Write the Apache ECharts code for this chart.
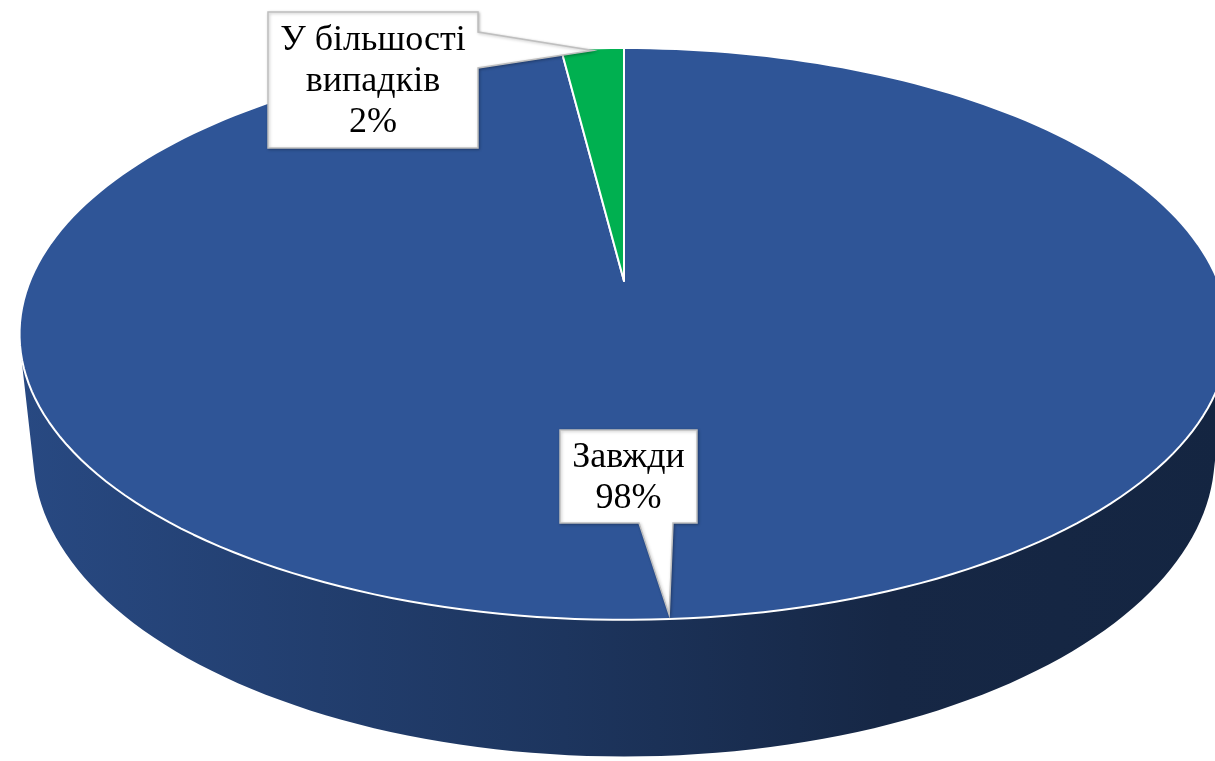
<!DOCTYPE html>
<html>
<head>
<meta charset="utf-8">
<script src="https://cdn.jsdelivr.net/npm/echarts@6.0.0/dist/echarts.min.js"></script>
<style>
  html, body { margin: 0; padding: 0; background: #fff; }
  #chart { width: 1215px; height: 761px; }
</style>
</head>
<body>
<div id="chart"></div>
<script>
// data
const categories = ['Завжди', 'У більшості випадків'];
const values = [98, 2];

// colours
const sliceColors = ['#2F5597', '#00B050'];

// 3d look of the pie (perspective, tilt, thickness)
const CX = 624, CY = 281;
const SCALE = 594;
const TILT = 27.7 * Math.PI / 180;
const DIST = 4.78;
const THICK = 0.232;

// callout boxes: [left, top, width, height], pointer base
const labelBoxes = [
    { box: [560, 430, 137, 93], side: 'bottom', base: [639, 673] },
    { box: [268, 12, 210, 136], side: 'right', base: [32, 68] }
];

const total = values.reduce((a, b) => a + b, 0);
const angles = [];
let acc = 0;
values.forEach(v => {
    const a0 = acc / total * Math.PI * 2;
    acc += v;
    angles.push([a0, acc / total * Math.PI * 2]);
});

function project(theta, r, up) {
    const X = r * Math.sin(theta);
    const Z = -r * Math.cos(theta);
    const depth = Z * Math.cos(TILT) + up * Math.sin(TILT);
    const f = DIST / (DIST - depth);
    return [CX + f * X * SCALE, CY + f * (Z * Math.sin(TILT) - up * Math.cos(TILT)) * SCALE];
}

function arc(a, b, up) {
    const n = Math.max(2, Math.ceil((b - a) / (Math.PI * 2) * 240));
    const pts = [];
    for (let i = 0; i <= n; i++) {
        pts.push(project(a + (b - a) * i / n, 1, up));
    }
    return pts;
}

function shade(hex, k) {
    const c = echarts.color.parse(hex);
    return 'rgb(' + [0, 1, 2].map(i => Math.round(c[i] * k)).join(',') + ')';
}

// wall is visible only where it faces the camera
const K = 1 / (DIST * Math.cos(TILT));
const visA = Math.acos(-K), visB = Math.PI * 2 - Math.acos(-K);

function labelText(i) {
    let name = categories[i];
    const sp = name.lastIndexOf(' ');
    if (name.length > 12 && sp > 0) name = name.slice(0, sp) + '\n' + name.slice(sp + 1);
    return name + '\n' + Math.round(values[i] / total * 100) + '%';
}

function calloutPoints(lb, tip) {
    const [x, y, w, h] = lb.box;
    if (lb.side === 'bottom') {
        return [[x, y], [x + w, y], [x + w, y + h], [lb.base[1], y + h], tip, [lb.base[0], y + h], [x, y + h]];
    }
    return [[x, y], [x + w, y], [x + w, lb.base[0]], tip, [x + w, lb.base[1]], [x + w, y + h], [x, y + h]];
}

function renderItem(params, api) {
    const i = params.dataIndex;
    const [a, b] = angles[i];
    const color = sliceColors[i];
    const children = [];

    const wa = Math.max(a, visA), wb = Math.min(b, visB);
    if (wb > wa) {
        const top = arc(wa, wb, 0);
        const bottom = arc(wa, wb, -THICK).reverse();
        children.push({
            type: 'polygon',
            shape: { points: top.concat(bottom) },
            style: {
                fill: new echarts.graphic.LinearGradient(19, 0, 1230, 0, [
                    { offset: 0, color: shade(color, 0.86) },
                    { offset: 0.45, color: shade(color, 0.62) },
                    { offset: 0.72, color: shade(color, 0.46) },
                    { offset: 1, color: shade(color, 0.43) }
                ], true)
            }
        });
    }

    const face = [project(0, 0, 0)].concat(arc(a, b, 0));
    children.push({
        type: 'polygon',
        shape: { points: face },
        style: { fill: color, stroke: '#ffffff', lineWidth: 2, lineJoin: 'round' }
    });

    const mid = (a + b) / 2;
    const tip = project(mid, 0.99, 0);
    const lb = labelBoxes[i];
    children.push({
        type: 'polygon',
        z2: 10,
        shape: { points: calloutPoints(lb, tip) },
        style: {
            fill: '#ffffff', stroke: '#BFBFBF', lineWidth: 1.5,
            shadowBlur: 3, shadowColor: 'rgba(0,0,0,0.25)', shadowOffsetX: 1, shadowOffsetY: 1
        }
    });
    children.push({
        type: 'text',
        z2: 11,
        x: lb.box[0] + lb.box[2] / 2,
        y: lb.box[1] + lb.box[3] / 2 + 2,
        style: {
            text: labelText(i),
            fill: '#000000',
            font: '36px "Liberation Serif", "Times New Roman", serif',
            lineHeight: 41,
            align: 'center',
            verticalAlign: 'middle'
        }
    });

    return { type: 'group', children };
}

const chart = echarts.init(document.getElementById('chart'));
chart.setOption({
    animation: false,
    series: [{
        type: 'custom',
        coordinateSystem: 'none',
        renderItem,
        data: values.map((v, i) => ({ name: categories[i], value: v }))
    }]
});
</script>
</body>
</html>
